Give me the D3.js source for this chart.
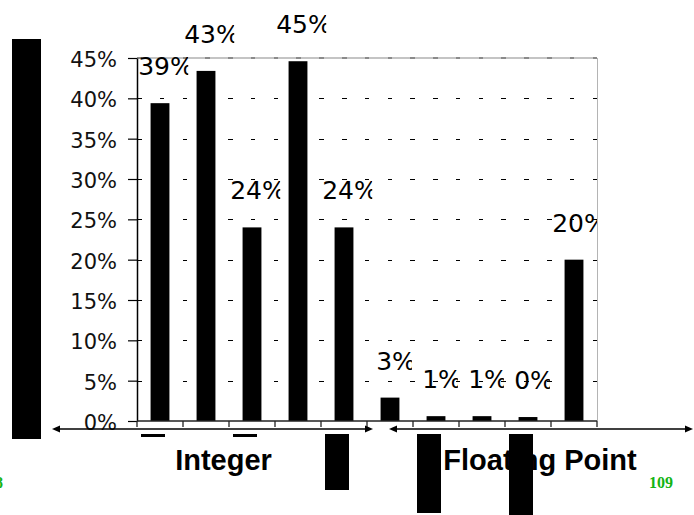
<!DOCTYPE html>
<html>
<head>
<meta charset="utf-8">
<script src="https://cdn.jsdelivr.net/npm/d3@7"></script>
<style>
  html, body { margin: 0; padding: 0; background: #fff; overflow: hidden; }
  svg { display: block; }
</style>
</head>
<body>
<svg id="chart" width="694" height="515"></svg>
<script>
// Benchmarks, split into integer and floating-point programs
const categories = ["compress", "eqntott", "espresso", "gcc", "li",
                    "doduc", "ear", "hydro2d", "mdljdp2", "su2cor"];
const groupNames = ["Integer", "Floating Point"];
// Share per benchmark, in percent
const shares = [39.4, 43.4, 24.0, 44.6, 24.0, 2.9, 0.6, 0.6, 0.49, 20.0];
const yTicks = [0, 5, 10, 15, 20, 25, 30, 35, 40, 45];
const pageNumbers = ["8", "109"];

const svg = d3.select("#chart");
const W = 694, H = 515;
const plot = { left: 137, right: 597, top: 58, bottom: 421 };

svg.append("rect").attr("width", W).attr("height", H).attr("fill", "#fff");

const x = d3.scaleBand().domain(categories).range([plot.left, plot.right]).padding(0);
const y = d3.scaleLinear().domain([0, 45]).range([plot.bottom, plot.top]);
const barW = x.bandwidth() * 0.41;
const fmt = v => d3.format(".0f")(v) + "%";

// Dark block along the left edge of the slide
svg.append("rect").attr("x", 12).attr("y", 39).attr("width", 29).attr("height", 400).attr("fill", "#000");

// Gridlines (dashed), drawn behind the bars
const grid = svg.append("g").attr("shape-rendering", "crispEdges");
grid.selectAll("line.g")
  .data(yTicks.filter(t => t > 0 && t < 45))
  .join("line")
  .attr("class", "g")
  .attr("x1", plot.left).attr("x2", plot.right)
  .attr("y1", d => Math.round(y(d)) + 0.5).attr("y2", d => Math.round(y(d)) + 0.5)
  .attr("stroke", "#000").attr("stroke-width", 1)
  .attr("stroke-dasharray", "4.5 18.28");

// Top and right frame of the plot area
grid.append("line")
  .attr("x1", plot.left).attr("x2", plot.right)
  .attr("y1", y(45)).attr("y2", y(45))
  .attr("stroke", "#c4c4c4").attr("stroke-width", 2);
grid.append("line")
  .attr("x1", plot.left).attr("x2", plot.right)
  .attr("y1", y(45)).attr("y2", y(45))
  .attr("stroke", "#8a8a8a").attr("stroke-width", 2)
  .attr("stroke-dasharray", "4.5 18.28");
grid.append("line")
  .attr("x1", plot.right + 0.5).attr("x2", plot.right + 0.5)
  .attr("y1", y(45)).attr("y2", y(0))
  .attr("stroke", "#b4b4b4").attr("stroke-width", 1.5);

// Bars
svg.append("g").selectAll("rect")
  .data(categories.map((c, i) => ({ c, v: shares[i] })))
  .join("rect")
  .attr("x", d => x(d.c) + (x.bandwidth() - barW) / 2)
  .attr("y", d => y(d.v))
  .attr("width", barW)
  .attr("height", d => y(0) - y(d.v))
  .attr("fill", "#000");

// Y axis
const yAxis = svg.append("g")
  .attr("transform", `translate(${plot.left},0)`)
  .call(d3.axisLeft(y).tickValues(yTicks).tickSize(9).tickSizeOuter(0).tickPadding(11).tickFormat(d => d + "%"));
yAxis.select(".domain").attr("stroke", "#000").attr("stroke-width", 1.5);
yAxis.selectAll(".tick line").attr("stroke", "#000").attr("stroke-width", 1.2);
yAxis.selectAll(".tick text")
  .attr("font-family", "DejaVu Sans")
  .attr("font-size", 21)
  .attr("fill", "#111")
  .attr("dy", "0.4em");

// X axis: baseline with ticks at the category boundaries
const xAxis = svg.append("g");
xAxis.append("line")
  .attr("x1", plot.left).attr("x2", plot.right)
  .attr("y1", plot.bottom).attr("y2", plot.bottom)
  .attr("stroke", "#222").attr("stroke-width", 1.5);
const bounds = categories.map(c => x(c)).concat([x.range()[1]]);
xAxis.selectAll("line.t")
  .data(bounds)
  .join("line")
  .attr("class", "t")
  .attr("x1", d => d).attr("x2", d => d)
  .attr("y1", plot.bottom).attr("y2", plot.bottom + 6)
  .attr("stroke", "#222").attr("stroke-width", 1.3);

// Value labels above bars, trimmed on the right like the original boxes
const defs = svg.append("defs");
const labels = svg.append("g");
categories.forEach((c, i) => {
  const cx = x(c) + x.bandwidth() / 2 + 6;
  const t = labels.append("text")
    .attr("x", cx)
    .attr("y", y(shares[i]) - 28)
    .attr("text-anchor", "middle")
    .attr("font-family", "DejaVu Sans")
    .attr("font-size", 25)
    .attr("fill", "#000")
    .text(fmt(shares[i]));
  const len = t.node().getComputedTextLength();
  const left = cx - len / 2 - 2;
  const right = Math.min(cx - len / 2 + len * 0.9, plot.right);
  const id = "clip" + i;
  defs.append("clipPath").attr("id", id)
    .append("rect")
    .attr("x", left)
    .attr("y", y(shares[i]) - 60)
    .attr("width", right - left)
    .attr("height", 45);
  t.attr("clip-path", `url(#${id})`);
});

// Group captions and range arrows
const arrowY = 429;
const arrows = [[52, 373], [389, 693]];
const captionX = [223.5, 540];
const ann = svg.append("g");
arrows.forEach(([a, b]) => {
  ann.append("line")
    .attr("x1", a + 4).attr("x2", b - 4)
    .attr("y1", arrowY).attr("y2", arrowY)
    .attr("stroke", "#000").attr("stroke-width", 1.4);
  ann.append("path")
    .attr("d", `M${a},${arrowY} L${a + 8},${arrowY - 3.5} L${a + 8},${arrowY + 3.5} Z`)
    .attr("fill", "#000");
  ann.append("path")
    .attr("d", `M${b},${arrowY} L${b - 8},${arrowY - 3.5} L${b - 8},${arrowY + 3.5} Z`)
    .attr("fill", "#000");
});
ann.selectAll("text.grp")
  .data(groupNames)
  .join("text")
  .attr("class", "grp")
  .attr("x", (d, i) => captionX[i])
  .attr("y", 470)
  .attr("text-anchor", "middle")
  .attr("font-family", "Liberation Sans, Arial, sans-serif")
  .attr("font-weight", "bold")
  .attr("font-size", 29)
  .attr("fill", "#000")
  .text(d => d);

// Unrendered category captions show as solid blocks under every other benchmark
const blockHeights = [3, 3, 56, 79, 81];
svg.append("g").selectAll("rect")
  .data(categories.filter((c, i) => i % 2 === 0))
  .join("rect")
  .attr("x", d => x(d) + x.bandwidth() / 2 - 19)
  .attr("y", 434)
  .attr("width", 24)
  .attr("height", (d, i) => blockHeights[i])
  .attr("fill", "#000");

// Slide page numbers
svg.append("g").selectAll("text")
  .data(pageNumbers)
  .join("text")
  .attr("x", (d, i) => i === 0 ? -5 : 649)
  .attr("y", 488)
  .attr("font-family", "Liberation Serif, Times New Roman, serif")
  .attr("font-weight", "bold")
  .attr("font-size", 16)
  .attr("fill", "#14b414")
  .text(d => d);
</script>
</body>
</html>
